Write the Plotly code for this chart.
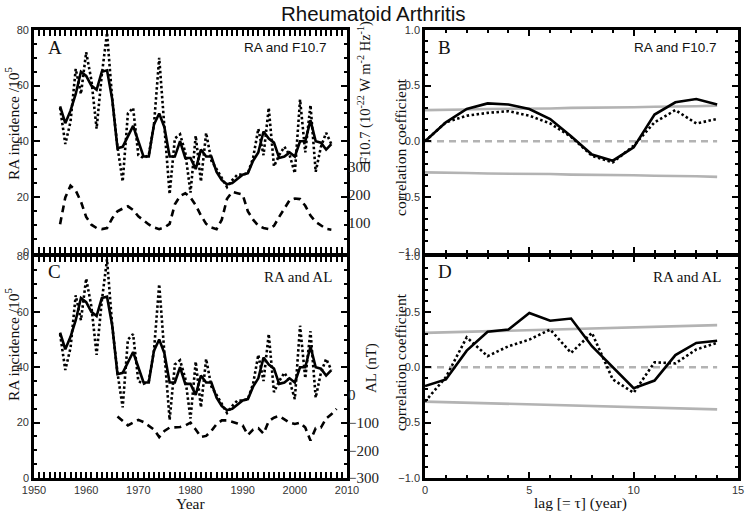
import plotly.graph_objects as go

# ---------------- data ----------------
years_ra = list(range(1955, 2008))
ra_annual = [52, 39, 47, 66, 57, 72, 62, 44.5, 64, 79, 55, 38, 25.5, 50, 52, 35, 34, 35, 46, 70,
             45, 21, 41, 42.5, 36, 21.5, 42, 25.5, 43, 33, 30, 27, 23.5, 26, 28, 28, 28.5, 34, 44.5, 35,
             52, 31, 35, 38, 35, 28.5, 55, 36, 53, 29, 38, 43, 39]
ra_smooth = [52.5, 46.5, 51, 57, 65, 63.5, 60, 58.5, 65, 65.5, 55, 37.5, 38, 42, 45.5, 40, 34.5, 34.5, 46, 50,
             45, 34.5, 34.5, 40, 34, 34, 30, 37, 34.5, 34.5, 29, 26, 24.5, 25, 26.5, 28, 28.5, 33, 36, 43.5,
             41, 39.5, 34, 34.5, 36, 34.5, 40, 40, 47.5, 40, 39.5, 37, 39]
f107 = [94, 190, 232, 215, 175, 120, 92, 80, 76, 80, 115, 140, 150, 158, 145, 122, 108, 93, 82, 76,
        82, 95, 165, 195, 205, 190, 162, 125, 95, 82, 76, 110, 185, 210, 205, 200, 140, 110, 88, 80,
        76, 88, 120, 150, 180, 186, 184, 160, 125, 102, 88, 77, 74]
years_al = list(range(1966, 2009))
al = [-78, -95, -110, -100, -90, -98, -110, -125, -152, -130, -118, -118, -116, -110, -100, -125, -152, -148,
      -130, -105, -92, -92, -97, -103, -110, -145, -125, -120, -140, -95, -82, -76, -88, -100, -105, -100,
      -118, -165, -120, -118, -85, -70, -50]

lags = list(range(0, 15))
b_solid = [0.0, 0.17, 0.29, 0.34, 0.33, 0.29, 0.20, 0.045, -0.12, -0.175, -0.055, 0.24, 0.35, 0.38, 0.33]
b_dot = [0.0, 0.17, 0.23, 0.255, 0.27, 0.23, 0.16, 0.04, -0.13, -0.19, -0.04, 0.17, 0.28, 0.16, 0.20]
b_sig = [0.28, 0.28, 0.285, 0.29, 0.29, 0.29, 0.295, 0.30, 0.30, 0.30, 0.305, 0.31, 0.31, 0.315, 0.32]
d_solid = [-0.17, -0.11, 0.15, 0.32, 0.34, 0.49, 0.42, 0.44, 0.19, 0.0, -0.19, -0.12, 0.11, 0.22, 0.24]
d_dot = [-0.31, -0.09, 0.27, 0.10, 0.19, 0.25, 0.34, 0.13, 0.31, -0.11, -0.23, 0.045, 0.035, 0.16, 0.22]
d_sig = [0.31, 0.315, 0.32, 0.325, 0.33, 0.33, 0.335, 0.34, 0.345, 0.35, 0.355, 0.36, 0.37, 0.375, 0.38]

f107_ticks = [100, 200, 300]
al_ticks = [0, -100, -200, -300]

W, H = 746, 512
def px(x): return x / W
def py(y): return 1 - y / H

LX = [px(34), px(347)]
RX = [px(425), px(738)]
TY = [py(252.5), py(30)]
BY = [py(478), py(256.5)]

SANS = "Liberation Sans"
SERIF = "Liberation Serif"
BLK = "#000000"
GRAY = "#b3b3b3"
LW = 2.6
DOT = "2.5px,2.5px"
DASH = "7px,5px"

fig = go.Figure()

def add(x, y, xa, ya, color=BLK, dash=None, width=LW):
    fig.add_trace(go.Scatter(x=x, y=y, xaxis=xa, yaxis=ya, mode="lines",
                             line=dict(color=color, width=width, dash=dash),
                             showlegend=False, hoverinfo="skip"))

# Panel A
add(years_ra, ra_annual, "x", "y", dash=DOT)
add(years_ra, ra_smooth, "x", "y")
add(years_ra, f107, "x", "y2", dash=DASH)
# Panel C
add(years_ra, ra_annual, "x3", "y4", dash=DOT)
add(years_ra, ra_smooth, "x3", "y4")
add(years_al, al, "x3", "y5", dash=DASH)
# Panel B
add(lags, b_sig, "x2", "y3", color=GRAY)
add(lags, [-v for v in b_sig], "x2", "y3", color=GRAY)
add(lags, [0] * len(lags), "x2", "y3", color=GRAY, dash=DASH)
add(lags, b_dot, "x2", "y3", dash=DOT)
add(lags, b_solid, "x2", "y3")
# Panel D
add(lags, d_sig, "x4", "y6", color=GRAY)
add(lags, [-v for v in d_sig], "x4", "y6", color=GRAY)
add(lags, [0] * len(lags), "x4", "y6", color=GRAY, dash=DASH)
add(lags, d_dot, "x4", "y6", dash=DOT)
add(lags, d_solid, "x4", "y6")

def frame_axis(domain, rng, dtick, minor_dtick, anchor, showlabels=True, fmt=None):
    d = dict(domain=domain, range=rng, dtick=dtick, tick0=0, anchor=anchor,
             automargin=False,
             showline=True, linecolor=BLK, linewidth=2.6, mirror="allticks",
             ticks="inside", ticklen=6, tickwidth=2, tickcolor=BLK,
             showgrid=False, zeroline=False, showticklabels=showlabels,
             tickfont=dict(family=SANS, size=11, color="#333333"),
             minor=dict(dtick=minor_dtick, tick0=0, ticks="inside", ticklen=3,
                        tickwidth=2, tickcolor=BLK, showgrid=False))
    if fmt:
        d["tickformat"] = fmt
    return d

def side_axis(domain, rng, overlay, anchor, vals):
    return dict(domain=domain, range=rng, overlaying=overlay, side="right", anchor=anchor,
                automargin=False, tickvals=vals, ticks="", showline=False, showgrid=False,
                zeroline=False, tickfont=dict(family=SERIF, size=15, color="#222222"))

layout = dict(
    template="none",
    width=W, height=H, margin=dict(l=0, r=0, t=0, b=0, autoexpand=False),
    paper_bgcolor="white", plot_bgcolor="white", showlegend=False,
    xaxis=frame_axis(LX, [1950, 2010], 10, 1, "y", showlabels=False),
    yaxis=frame_axis(TY, [0, 80], 20, 5, "x"),
    yaxis2=side_axis(TY, [-8, 792], "y", "x", f107_ticks),
    xaxis2=frame_axis(RX, [0, 15], 5, 1, "y3", showlabels=False),
    yaxis3=frame_axis(TY, [-1, 1], 0.5, 0.1, "x2", fmt=".1f"),
    xaxis3=frame_axis(LX, [1950, 2010], 10, 1, "y4"),
    yaxis4=frame_axis(BY, [0, 80], 20, 5, "x3"),
    yaxis5=side_axis(BY, [-300, 500], "y4", "x3", al_ticks),
    xaxis4=frame_axis(RX, [0, 15], 5, 1, "y6"),
    yaxis6=frame_axis(BY, [-1, 1], 0.5, 0.1, "x4", fmt=".1f"),
)
fig.update_layout(**layout)

def ann(text, x, y, size, family, xanchor="center", yanchor="middle", angle=0, color="#111111"):
    fig.add_annotation(text=text, x=px(x), y=py(y), xref="paper", yref="paper",
                       showarrow=False, xanchor=xanchor, yanchor=yanchor, textangle=angle,
                       font=dict(family=family, size=size, color=color))

ann("Rheumatoid Arthritis", 373, 13, 20.5, SANS)
# Panel letters
ann("A", 46, 47, 19, SERIF, xanchor="left")
ann("B", 436, 47, 19, SERIF, xanchor="left")
ann("C", 46, 271, 19, SERIF, xanchor="left")
ann("D", 436, 271, 19, SERIF, xanchor="left")
# Panel labels
ann("RA and F10.7", 329, 47, 13.5, SANS, xanchor="right")
ann("RA and F10.7", 719, 47, 13.5, SANS, xanchor="right")
ann("RA and AL", 334, 277, 15, SERIF, xanchor="right")
ann("RA and AL", 723, 277, 15, SERIF, xanchor="right")
# Axis titles
ann("RA incidence /10<sup>5</sup>", 12, 124, 15.5, SERIF, angle=-90)
ann("RA incidence /10<sup>5</sup>", 12, 345, 15.5, SERIF, angle=-90)
ann("F10.7 (10<sup>-22</sup> W m<sup>-2</sup> Hz<sup>-1</sup>)", 364, 93, 14.5, SERIF, angle=-90)
ann("AL (nT)", 371, 368, 15, SERIF, angle=-90)
ann("correlation coefficient", 400, 147, 15.5, SERIF, angle=-90)
ann("correlation coefficient", 400, 362, 15.5, SERIF, angle=-90)
ann("Year", 190, 503, 15.5, SERIF)
ann("lag [= τ] (year)", 580, 503, 15.5, SERIF)

fig.write_html("out.html", config={"displayModeBar": False},
               post_script="document.body.style.margin='0px';document.body.style.overflow='hidden';")
